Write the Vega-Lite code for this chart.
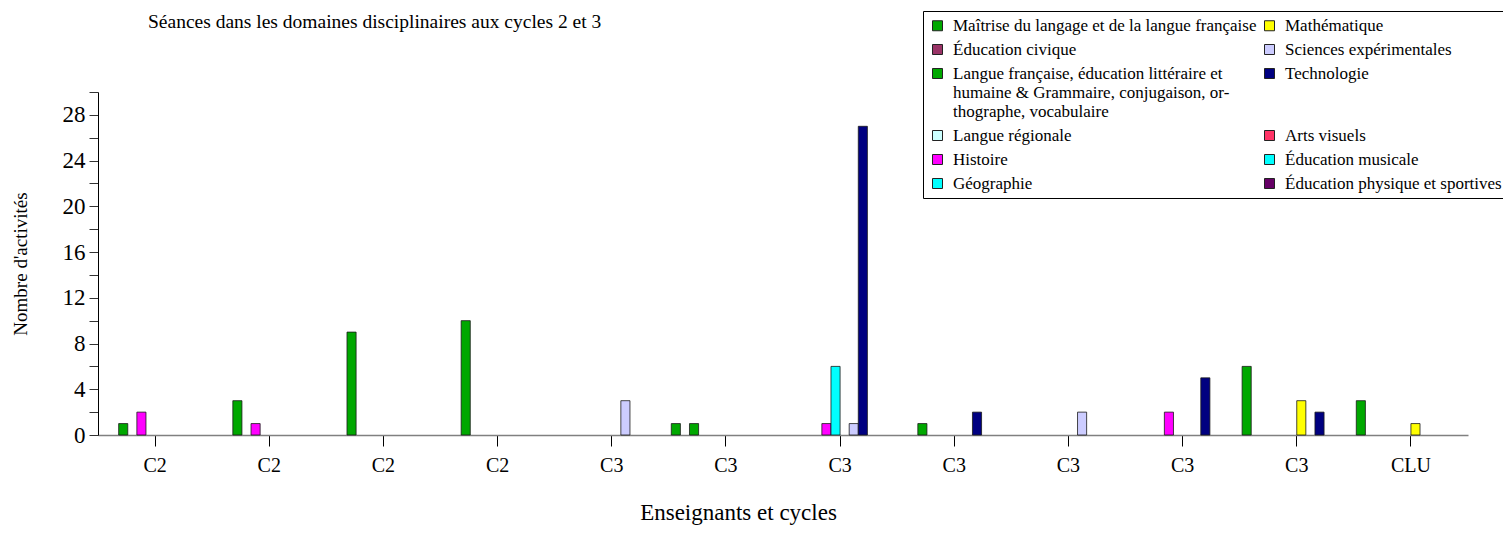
{
  "$schema": "https://vega.github.io/schema/vega-lite/v6.json",
  "autosize": {"type": "none"},
  "width": 1370,
  "height": 343,
  "padding": {"left": 98, "top": 92, "right": 35, "bottom": 99},
  "background": "white",
  "config": {
    "view": {"stroke": null},
    "font": "Liberation Serif",
    "axis": {"grid": false, "labelFont": "Liberation Serif", "titleFont": "Liberation Serif", "titleFontWeight": "normal", "labelColor": "black", "titleColor": "black"}
  },
  "title": {
    "text": "Séances dans les domaines disciplinaires aux cycles 2 et 3",
    "anchor": "start",
    "frame": "group",
    "dx": 50,
    "offset": -22,
    "font": "Liberation Serif",
    "fontSize": 19.5,
    "fontWeight": "normal",
    "color": "black"
  },
  "data": {
    "values": [
      {"ens": "01 C2", "dom": "Langue française, éducation littéraire et humaine & Grammaire, conjugaison, orthographe, vocabulaire", "n": 1},
      {"ens": "01 C2", "dom": "Histoire", "n": 2},
      {"ens": "02 C2", "dom": "Langue française, éducation littéraire et humaine & Grammaire, conjugaison, orthographe, vocabulaire", "n": 3},
      {"ens": "02 C2", "dom": "Histoire", "n": 1},
      {"ens": "03 C2", "dom": "Langue française, éducation littéraire et humaine & Grammaire, conjugaison, orthographe, vocabulaire", "n": 9},
      {"ens": "04 C2", "dom": "Langue française, éducation littéraire et humaine & Grammaire, conjugaison, orthographe, vocabulaire", "n": 10},
      {"ens": "05 C3", "dom": "Sciences expérimentales", "n": 3},
      {"ens": "06 C3", "dom": "Maîtrise du langage et de la langue française", "n": 1},
      {"ens": "06 C3", "dom": "Langue française, éducation littéraire et humaine & Grammaire, conjugaison, orthographe, vocabulaire", "n": 1},
      {"ens": "07 C3", "dom": "Histoire", "n": 1},
      {"ens": "07 C3", "dom": "Géographie", "n": 6},
      {"ens": "07 C3", "dom": "Sciences expérimentales", "n": 1},
      {"ens": "07 C3", "dom": "Technologie", "n": 27},
      {"ens": "08 C3", "dom": "Langue française, éducation littéraire et humaine & Grammaire, conjugaison, orthographe, vocabulaire", "n": 1},
      {"ens": "08 C3", "dom": "Technologie", "n": 2},
      {"ens": "09 C3", "dom": "Sciences expérimentales", "n": 2},
      {"ens": "10 C3", "dom": "Histoire", "n": 2},
      {"ens": "10 C3", "dom": "Technologie", "n": 5},
      {"ens": "11 C3", "dom": "Maîtrise du langage et de la langue française", "n": 6},
      {"ens": "11 C3", "dom": "Mathématique", "n": 3},
      {"ens": "11 C3", "dom": "Technologie", "n": 2},
      {"ens": "12 CLU", "dom": "Maîtrise du langage et de la langue française", "n": 3},
      {"ens": "12 CLU", "dom": "Mathématique", "n": 1}
    ]
  },
  "mark": {"type": "bar", "stroke": "#1a1a1a", "strokeWidth": 0.8},
  "encoding": {
    "x": {
      "field": "ens",
      "type": "nominal",
      "scale": {"domain": ["01 C2", "02 C2", "03 C2", "04 C2", "05 C3", "06 C3", "07 C3", "08 C3", "09 C3", "10 C3", "11 C3", "12 CLU"], "paddingInner": 0, "paddingOuter": 0},
      "axis": {
        "title": "Enseignants et cycles",
        "titleFontSize": 23,
        "titlePadding": 26,
        "titleX": 640,
        "titleAlign": "center",
        "labelExpr": "split(datum.label, ' ')[1]",
        "labelAngle": 0,
        "labelFontSize": 20,
        "labelPadding": 9,
        "tickSize": 11,
        "tickColor": "black",
        "domainColor": "#808080",
        "domainWidth": 1.5
      }
    },
    "xOffset": {
      "field": "dom",
      "type": "nominal",
      "scale": {
        "domain": ["Maîtrise du langage et de la langue française", "Éducation civique", "Langue française, éducation littéraire et humaine & Grammaire, conjugaison, orthographe, vocabulaire", "Langue régionale", "Histoire", "Géographie", "Mathématique", "Sciences expérimentales", "Technologie", "Arts visuels", "Éducation musicale", "Éducation physique et sportives"],
        "paddingInner": 0,
        "paddingOuter": 0.27
      }
    },
    "y": {
      "field": "n",
      "type": "quantitative",
      "scale": {"domain": [0, 30], "nice": false},
      "axis": {
        "title": "Nombre d'activités",
        "titleFontSize": 19,
        "titlePadding": 32,
        "values": [0, 2, 4, 6, 8, 10, 12, 14, 16, 18, 20, 22, 24, 26, 28, 30],
        "labelExpr": "datum.value % 4 == 0 && datum.value < 30 ? datum.label : ''",
        "labelFontSize": 23,
        "labelPadding": 4,
        "tickSize": 9,
        "tickColor": "#333",
        "domainColor": "black",
        "labelFlush": false
      }
    },
    "color": {
      "field": "dom",
      "type": "nominal",
      "scale": {
        "domain": ["Maîtrise du langage et de la langue française", "Éducation civique", "Langue française, éducation littéraire et humaine & Grammaire, conjugaison, orthographe, vocabulaire", "Langue régionale", "Histoire", "Géographie", "Mathématique", "Sciences expérimentales", "Technologie", "Arts visuels", "Éducation musicale", "Éducation physique et sportives"],
        "range": ["#00a800", "#993366", "#00a800", "#ccffff", "#ff00ff", "#00ffff", "#ffff00", "#ccccff", "#000080", "#ff3366", "#00ffff", "#660066"]
      },
      "legend": {
        "title": null,
        "orient": "none",
        "legendX": 825,
        "legendY": -81,
        "columns": 2,
        "columnPadding": 4,
        "rowPadding": 6,
        "padding": 6,
        "strokeColor": "black",
        "fillColor": "white",
        "symbolType": "square",
        "symbolSize": 100,
        "symbolStrokeColor": "#222",
        "symbolStrokeWidth": 1,
        "symbolOpacity": 1,
        "labelFont": "Liberation Serif",
        "labelFontSize": 17,
        "labelColor": "black",
        "labelLimit": 400,
        "labelOffset": 7,
        "labelExpr": "datum.label == 'Langue française, éducation littéraire et humaine & Grammaire, conjugaison, orthographe, vocabulaire' ? ['Langue française, éducation littéraire et', 'humaine & Grammaire, conjugaison, or-', 'thographe, vocabulaire'] : datum.label"
      }
    }
  }
}
